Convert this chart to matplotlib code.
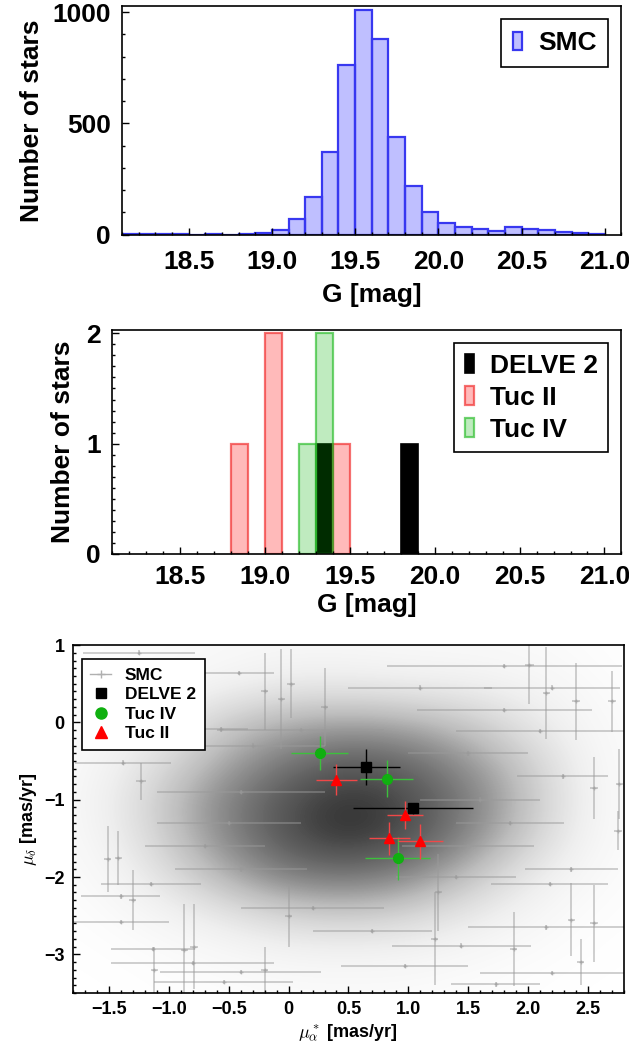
import numpy as np
import matplotlib
matplotlib.use('Agg')
import matplotlib.pyplot as plt
from matplotlib.ticker import MultipleLocator
from matplotlib.patches import Patch
from matplotlib.lines import Line2D

plt.rcParams['font.family'] = ['Liberation Sans', 'DejaVu Sans']
plt.rcParams['font.weight'] = 'bold'
plt.rcParams['mathtext.fontset'] = 'cm'

# ---- histogram data: G magnitude bins of 0.1 mag ----
bin_left = np.round(np.arange(18.1, 21.0, 0.1), 2)
smc_counts = [2, 2, 2, 2, 0, 1, 0, 3, 8, 19, 69, 168, 370, 762, 1010,
              880, 439, 220, 100, 53, 33, 27, 18, 33, 24, 20, 13, 5, 3]

# members per bin (only non-empty bins listed)
delve2_bins = [19.3, 19.8]
delve2_counts = [1, 1]
tuc2_bins = [18.8, 19.0, 19.4]
tuc2_counts = [1, 2, 1]
tuc4_bins = [19.2, 19.3]
tuc4_counts = [1, 2]

# ---- proper motions ----
delve2_pmra = [0.65, 1.04]
delve2_pmdec = [-0.58, -1.11]
delve2_era = [0.28, 0.50]
delve2_edec = [0.23, 0.07]

tuc4_pmra = [0.26, 0.82, 0.91]
tuc4_pmdec = [-0.39, -0.73, -1.76]
tuc4_era = [0.24, 0.22, 0.27]
tuc4_edec = [0.22, 0.24, 0.28]

tuc2_pmra = [0.40, 0.97, 0.84, 1.10]
tuc2_pmdec = [-0.74, -1.20, -1.50, -1.54]
tuc2_era = [0.17, 0.15, 0.17, 0.19]
tuc2_edec = [0.20, 0.18, 0.21, 0.23]

# SMC field: density of the crowded core (0 = empty, 1 = black)
dens_x = [-2.0, -1.5, -1.0, -0.5, 0.0, 0.5, 1.0, 1.5, 2.0, 2.5, 3.0]
dens_y = [1.0, 0.5, 0.0, -0.5, -1.0, -1.5, -2.0, -2.5, -3.0, -3.5]
dens = [[0.00, 0.02, 0.03, 0.05, 0.06, 0.06, 0.05, 0.05, 0.04, 0.02, 0.00],
        [0.01, 0.03, 0.05, 0.10, 0.15, 0.15, 0.13, 0.12, 0.09, 0.04, 0.01],
        [0.02, 0.06, 0.15, 0.32, 0.42, 0.45, 0.42, 0.32, 0.18, 0.06, 0.02],
        [0.03, 0.09, 0.25, 0.45, 0.62, 0.72, 0.66, 0.50, 0.30, 0.08, 0.02],
        [0.03, 0.12, 0.35, 0.58, 0.76, 0.85, 0.78, 0.60, 0.35, 0.09, 0.02],
        [0.03, 0.10, 0.32, 0.56, 0.76, 0.85, 0.76, 0.55, 0.30, 0.08, 0.02],
        [0.02, 0.06, 0.22, 0.42, 0.58, 0.62, 0.54, 0.35, 0.16, 0.05, 0.01],
        [0.01, 0.03, 0.09, 0.18, 0.27, 0.30, 0.26, 0.16, 0.08, 0.02, 0.01],
        [0.00, 0.01, 0.03, 0.06, 0.09, 0.10, 0.09, 0.06, 0.03, 0.01, 0.00],
        [0.00, 0.00, 0.01, 0.02, 0.03, 0.03, 0.03, 0.02, 0.01, 0.00, 0.00]]

# SMC stars with readable error bars (pmra, pmdec, err_ra, err_dec)
smc_pmra = [-0.06, 0.02, -0.41, -1.25, -1.23, -1.38, -0.56, 2.01, 2.15, 1.80,
            2.20, 1.80, 2.40, 2.70, 2.10, 2.29, 2.76, 2.55, -1.15, -1.40,
            -1.51, -1.42, -1.30, -1.13, -0.80, -0.87, -0.79, -1.12, -0.40, -0.20,
            -1.40, -0.54, 2.75, 2.36, 2.18, 2.55, 2.36, 2.15, 1.44, 1.88,
            2.20, 0.97, 1.22, 2.44, 1.73,
            -0.30, -0.40, -0.50, -0.40, 1.50, 1.60, 1.50, 1.40, 0.20, 0.00,
            0.30, -0.20, 1.10, 0.70, -0.70, 1.85, 0.10, 1.25]
smc_pmdec = [0.30, 0.50, 0.64, 0.90, -0.76, -0.52, -0.09, 0.74, 0.38, 0.73,
             0.45, 0.16, 0.27, 0.27, -0.11, -0.70, -0.80, -0.85, -2.09, -2.25,
             -1.77, -1.75, -2.30, -2.93, -3.11, -2.95, -2.90, -3.20, -3.23, -3.20,
             -2.58, -3.36, -1.40, -1.90, -2.09, -2.60, -2.55, -2.65, -2.89, -2.93,
             -3.24, -3.15, -2.80, -3.10, -3.39,
             -0.30, -0.90, -1.30, -1.90, -0.40, -1.00, -1.60, -2.00, -2.40, -2.50,
             0.20, 0.40, 0.45, -2.70, -1.60, -1.30, -0.10, -2.20]
smc_era = [0.03, 0.03, 0.29, 0.47, 0.04, 0.40, 0.22, 0.04, 0.03, 0.98,
           0.57, 0.73, 0.03, 0.03, 0.70, 0.38, 0.03, 0.03, 0.42, 0.33,
           0.03, 0.03, 0.03, 0.35, 0.68, 0.03, 0.03, 0.03, 0.67, 0.03,
           0.40, 0.58, 0.03, 0.39, 0.49, 0.03, 0.03, 0.65, 0.58, 0.03,
           0.60, 0.53, 0.03, 0.03, 0.37,
           0.60, 0.70, 0.60, 0.55, 0.50, 0.50, 0.55, 0.50, 0.60, 0.03,
           0.03, 0.03, 0.60, 0.50, 0.50, 0.45, 0.70, 0.03]
smc_edec = [0.65, 0.45, 0.03, 0.03, 0.24, 0.03, 0.03, 0.50, 0.60, 0.03,
            0.03, 0.03, 0.50, 0.40, 0.03, 0.03, 0.45, 0.40, 0.03, 0.03,
            0.43, 0.35, 0.39, 0.03, 0.03, 0.60, 0.55, 0.30, 0.03, 0.30,
            0.03, 0.03, 0.25, 0.03, 0.03, 0.50, 0.47, 0.03, 0.03, 0.48,
            0.03, 0.03, 0.60, 0.30, 0.03,
            0.03, 0.03, 0.03, 0.03, 0.03, 0.03, 0.03, 0.03, 0.03, 0.40,
            0.50, 0.50, 0.03, 0.03, 0.03, 0.03, 0.03, 0.50]

fig = plt.figure(figsize=(6.29, 10.48), dpi=100)


def style_axes(ax, fs, pad):
    ax.tick_params(which='both', direction='in', top=False, right=False,
                   labelsize=fs, width=1, pad=pad)
    ax.tick_params(which='major', length=5)
    ax.tick_params(which='minor', length=2.5)
    for s in ax.spines.values():
        s.set_linewidth(1.2)


# ---- top: SMC G histogram ----
ax1 = fig.add_axes([0.194, 0.7758, 0.794, 0.2185])
ax1.bar(bin_left, smc_counts, width=0.1, align='edge',
        fc=(0.0, 0.0, 1.0, 0.25), ec='#3838f0', lw=1.6)
ax1.set_xlim(18.1, 21.1)
ax1.set_ylim(-2, 1028)
ax1.xaxis.set_major_locator(MultipleLocator(0.5))
ax1.xaxis.set_minor_locator(MultipleLocator(0.1))
ax1.yaxis.set_major_locator(MultipleLocator(500))
ax1.yaxis.set_minor_locator(MultipleLocator(100))
ax1.xaxis.set_major_formatter(plt.FormatStrFormatter('%.1f'))
style_axes(ax1, 19, 8)
ax1.tick_params(axis='x', pad=11)
ax1.set_xlabel('G [mag]', fontsize=19, fontweight='bold', labelpad=6)
ax1.set_ylabel('Number of stars', fontsize=19, fontweight='bold', labelpad=6)
ax1.legend(handles=[Patch(fc=(0.0, 0.0, 1.0, 0.25), ec='#3838f0', lw=1.6, label='SMC')],
           loc='upper right', fontsize=19, fancybox=False, edgecolor='black',
           framealpha=1, handlelength=0.35, handleheight=0.7, handletextpad=0.6,
           borderpad=0.45).get_frame().set_linewidth(1.2)

# ---- middle: member G histograms ----
ax2 = fig.add_axes([0.178, 0.4714, 0.810, 0.2137])
ax2.bar(delve2_bins, delve2_counts, width=0.1, align='edge', fc='black', ec='black',
        lw=1.2, label='DELVE 2')
ax2.bar(tuc2_bins, tuc2_counts, width=0.1, align='edge', fc=(1.0, 0.0, 0.0, 0.27),
        ec=(0.95, 0.2, 0.2, 0.7), lw=1.6, label='Tuc II')
ax2.bar(tuc4_bins, tuc4_counts, width=0.1, align='edge', fc=(0.0, 0.7, 0.0, 0.25),
        ec=(0.2, 0.75, 0.2, 0.7), lw=1.6, label='Tuc IV')
ax2.set_xlim(18.1, 21.1)
ax2.set_ylim(0, 2.03)
ax2.xaxis.set_major_locator(MultipleLocator(0.5))
ax2.xaxis.set_minor_locator(MultipleLocator(0.1))
ax2.yaxis.set_major_locator(MultipleLocator(1))
ax2.yaxis.set_minor_locator(MultipleLocator(0.1))
ax2.xaxis.set_major_formatter(plt.FormatStrFormatter('%.1f'))
style_axes(ax2, 19, 8)
ax2.set_xlabel('G [mag]', fontsize=19, fontweight='bold', labelpad=3)
ax2.set_ylabel('Number of stars', fontsize=19, fontweight='bold', labelpad=8)
ax2.legend(loc='upper right', fontsize=19, fancybox=False, edgecolor='black',
           framealpha=1, handlelength=0.35, handleheight=0.7, handletextpad=0.6,
           labelspacing=0.3, borderpad=0.4).get_frame().set_linewidth(1.2)

# ---- bottom: proper motions ----
ax3 = fig.add_axes([0.116, 0.0525, 0.876, 0.332])
ax3.imshow(np.array(dens), extent=[dens_x[0] - 0.25, dens_x[-1] + 0.25,
                                   dens_y[-1] - 0.25, dens_y[0] + 0.25],
           cmap='Greys', vmin=0, vmax=1, interpolation='bicubic', aspect='auto',
           zorder=0)
ax3.errorbar(smc_pmra, smc_pmdec, xerr=smc_era, yerr=smc_edec, fmt='+', ms=3,
             color='#9a9a9a', alpha=0.55, elinewidth=1.2, capsize=0, zorder=1)
ax3.errorbar(delve2_pmra, delve2_pmdec, xerr=delve2_era, yerr=delve2_edec, fmt='none',
             ecolor='black', elinewidth=1, capsize=0, zorder=3)
ax3.errorbar(tuc4_pmra, tuc4_pmdec, xerr=tuc4_era, yerr=tuc4_edec, fmt='none',
             ecolor='#3cc03c', elinewidth=1, capsize=0, zorder=3)
ax3.errorbar(tuc2_pmra, tuc2_pmdec, xerr=tuc2_era, yerr=tuc2_edec, fmt='none',
             ecolor='#f04848', elinewidth=1, capsize=0, zorder=3)
ax3.plot(delve2_pmra, delve2_pmdec, 's', color='black', ms=6.5, ls='none', zorder=4)
ax3.plot(tuc4_pmra, tuc4_pmdec, 'o', color='#10b010', ms=7, ls='none', zorder=4)
ax3.plot(tuc2_pmra, tuc2_pmdec, '^', color='red', ms=7.5, ls='none', zorder=4)
ax3.set_xlim(-1.8, 2.8)
ax3.set_ylim(-3.5, 1.0)
ax3.xaxis.set_major_locator(MultipleLocator(0.5))
ax3.xaxis.set_minor_locator(MultipleLocator(0.1))
ax3.yaxis.set_major_locator(MultipleLocator(1))
ax3.yaxis.set_minor_locator(MultipleLocator(0.1))
ax3.xaxis.set_major_formatter(plt.FuncFormatter(
    lambda v, p: '0' if abs(v) < 1e-9 else ('%.1f' % v).replace('-', '\u2212')))
style_axes(ax3, 13, 6)
ax3.set_xlabel(r'$\mu^*_\alpha$ [mas/yr]', fontsize=13, fontweight='bold', labelpad=3)
ax3.set_ylabel(r'$\mu_\delta$ [mas/yr]', fontsize=13, fontweight='bold', labelpad=4)
handles = [Line2D([], [], color='#b0b0b0', marker='+', ms=6, lw=1),
           Line2D([], [], color='black', marker='s', ms=7, ls='none'),
           Line2D([], [], color='#10b010', marker='o', ms=8, ls='none'),
           Line2D([], [], color='red', marker='^', ms=8, ls='none')]
ax3.legend(handles, ['SMC', 'DELVE 2', 'Tuc IV', 'Tuc II'], loc='upper left',
           fontsize=12.5, fancybox=False, edgecolor='black', framealpha=1,
           handlelength=1.2, labelspacing=0.25, borderpad=0.5,
           bbox_to_anchor=(0.0, 0.985)).get_frame().set_linewidth(1.2)

fig.savefig('out.png', dpi=100)
